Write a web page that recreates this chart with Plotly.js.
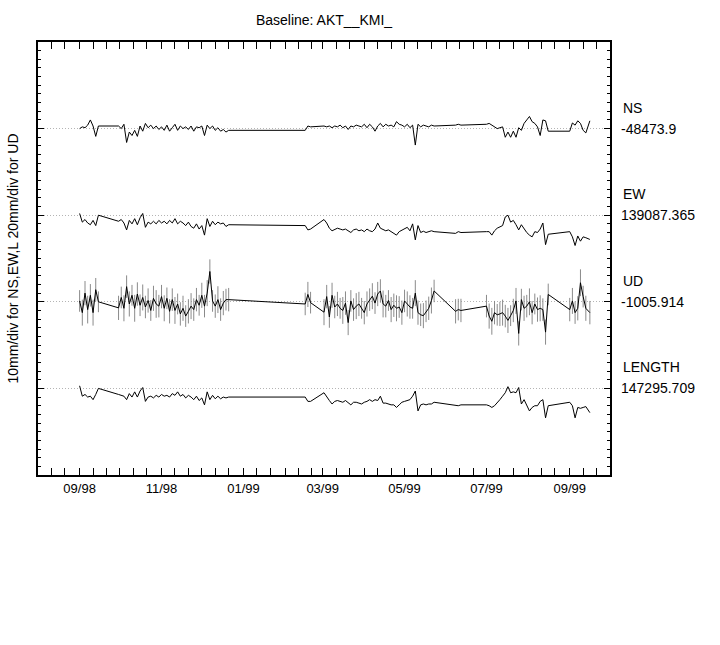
<!DOCTYPE html>
<html>
<head>
<meta charset="utf-8">
<script src="https://cdn.plot.ly/plotly-3.0.1.min.js"></script>
<style>html,body{margin:0;padding:0;background:#fff;}#chart{width:720px;height:645px;}</style>
</head>
<body>
<div id="chart"></div>
<script>
// Observation dates (gaps are joined by straight lines in the original)
const dates = [
  '1998-09-01','1998-09-03','1998-09-05','1998-09-07','1998-09-09','1998-09-11','1998-09-13','1998-09-15',
  '1998-09-30','1998-10-02','1998-10-04','1998-10-06','1998-10-08','1998-10-10','1998-10-12','1998-10-14','1998-10-16','1998-10-18','1998-10-20','1998-10-22','1998-10-24','1998-10-26','1998-10-28','1998-10-30',
  '1998-11-01','1998-11-03','1998-11-05','1998-11-07','1998-11-09','1998-11-11','1998-11-13','1998-11-15','1998-11-17','1998-11-19','1998-11-21','1998-11-23','1998-11-25','1998-11-27','1998-11-29',
  '1998-12-01','1998-12-03','1998-12-05','1998-12-07','1998-12-09','1998-12-11','1998-12-13','1998-12-15','1998-12-17','1998-12-19','1998-12-21',
  '1999-02-16','1999-02-18','1999-02-20',
  '1999-03-02','1999-03-04','1999-03-06','1999-03-08','1999-03-10','1999-03-12','1999-03-14','1999-03-16','1999-03-18','1999-03-20','1999-03-22','1999-03-24','1999-03-26','1999-03-28','1999-03-30',
  '1999-04-01','1999-04-03','1999-04-05','1999-04-07','1999-04-09','1999-04-11','1999-04-13','1999-04-15','1999-04-17','1999-04-19','1999-04-21','1999-04-23','1999-04-25','1999-04-27','1999-04-29',
  '1999-05-01','1999-05-03','1999-05-05','1999-05-07','1999-05-09','1999-05-11','1999-05-13','1999-05-15','1999-05-17','1999-05-19','1999-05-21','1999-05-23',
  '1999-06-08','1999-06-10','1999-06-12',
  '1999-07-01','1999-07-03','1999-07-05','1999-07-07','1999-07-09','1999-07-11','1999-07-13','1999-07-15','1999-07-17','1999-07-19','1999-07-21','1999-07-23','1999-07-25','1999-07-27','1999-07-29','1999-07-31',
  '1999-08-02','1999-08-04','1999-08-06','1999-08-08','1999-08-10','1999-08-12','1999-08-14','1999-08-16',
  '1999-09-01','1999-09-03','1999-09-05','1999-09-07','1999-09-09','1999-09-11','1999-09-13','1999-09-16'
];

// Offsets from the reference value, in mm
const nsMM = [
  0.0,0.2,0.1,0.4,1.0,0.3,-0.9,0.3,
  0.3,0.0,0.5,-1.6,-0.4,-0.8,-0.2,-0.9,0.3,-0.3,0.6,0.1,0.4,0.0,0.3,-0.1,
  0.2,-0.2,0.4,-0.3,0.1,0.5,-0.2,0.3,0.0,0.2,-0.1,0.3,-0.3,0.2,0.1,
  0.3,-0.8,0.4,0.0,0.3,-0.2,0.1,-0.3,-0.1,-0.4,-0.2,
  -0.2,0.3,0.2,
  0.3,0.2,0.3,0.1,0.3,0.2,0.4,0.1,0.3,-0.1,0.3,0.2,0.4,0.3,0.2,
  0.5,0.1,0.5,0.2,-0.3,0.3,0.6,0.2,0.5,0.3,0.4,0.2,0.8,0.5,0.4,
  0.2,0.5,0.1,0.4,-1.9,0.5,0.2,0.4,0.3,0.2,0.4,0.3,
  0.4,0.5,0.4,
  0.5,0.6,0.4,0.2,0.0,0.1,0.2,-1.0,-0.4,-1.0,-0.3,-1.0,0.1,-0.2,0.6,1.0,
  1.4,0.8,0.6,0.2,-0.8,1.0,0.9,-0.3,
  -0.3,0.65,0.4,0.9,0.6,-0.2,-0.5,0.9
];
const ewMM = [
  0.2,-0.8,-0.5,-0.9,-1.1,-0.6,-1.2,0.0,
  -0.7,-0.5,-0.9,-1.7,-0.6,-1.0,-0.4,-1.1,-0.3,0.2,-1.4,-0.8,-1.0,-0.7,-1.0,-0.6,
  -0.9,-0.7,-1.0,-0.6,-0.9,-0.4,-1.0,-0.7,-0.9,-1.2,-0.8,-1.3,-1.5,-1.0,-1.6,
  -1.2,-2.3,-0.4,-1.3,-0.7,-1.1,-0.8,-1.0,-0.9,-1.3,-1.1,
  -1.2,-1.7,-1.6,
  -0.5,-0.9,-1.5,-1.8,-1.6,-1.5,-1.6,-1.7,-1.6,-1.8,-2.0,-1.7,-1.6,-1.8,-1.7,
  -1.9,-1.6,-1.8,-1.9,-1.6,-0.9,-1.5,-1.7,-1.8,-1.7,-1.9,-2.0,-2.3,-1.9,-1.7,
  -1.6,-1.4,-1.8,-1.0,-2.85,-1.2,-2.0,-1.85,-2.0,-1.9,-1.8,-1.9,
  -2.1,-1.9,-2.0,
  -1.9,-1.9,-2.3,-1.8,-1.5,-1.3,-1.2,-0.2,0.0,-0.8,-0.6,-1.1,-1.7,-1.1,-1.6,-2.0,
  -2.3,-2.5,-1.9,-2.0,-1.6,-0.9,-3.4,-2.2,
  -1.9,-2.5,-3.5,-2.4,-3.0,-2.5,-2.6,-2.8
];
const udMM = [
  0.2,-2.5,2.0,-1.8,1.5,-2.5,2.8,0.0,
  -1.4,1.0,-1.5,3.5,-0.5,1.5,-1.5,1.8,-0.8,1.0,-1.2,0.3,-2.0,0.8,-0.5,-1.0,
  1.2,-1.5,0.8,-2.2,0.5,-2.0,-0.5,-2.8,-1.5,-3.3,-2.2,-1.0,-1.8,0.5,-0.8,
  1.5,-1.0,2.0,7.0,0.2,-1.0,0.5,-1.8,-0.3,0.5,0.5,
  -0.5,1.7,-0.2,
  -2.4,1.2,-3.5,1.5,-1.2,-0.5,-1.5,-2.0,-0.3,-4.8,0.2,-1.8,-1.0,-0.5,-1.5,
  -2.5,-0.5,0.5,1.3,-0.3,1.8,2.5,-0.5,-1.0,0.3,-1.8,-0.8,-1.5,-1.2,-2.5,
  0.2,-0.5,-1.2,-1.5,2.0,-2.5,-3.0,-3.2,-2.2,-1.5,0.3,2.5,
  -2.2,-1.8,-2.0,
  -1.0,-3.3,-4.5,-2.5,-3.0,-2.8,-2.5,-3.3,-4.3,-3.2,-2.0,0.2,-7.3,0.5,-1.5,-1.0,
  0.0,-2.5,-0.5,-1.8,-1.5,-1.8,-7.0,1.7,
  -1.8,0.2,-2.5,-1.5,4.4,1.2,-1.5,-2.5
];
const udErrMM = [
  2.5,3.0,2.8,3.2,2.6,3.0,2.7,2.4,
  2.8,2.5,3.0,2.6,2.9,2.4,3.1,2.7,2.5,3.0,2.6,2.8,2.4,2.9,3.2,2.6,
  2.7,3.0,2.5,2.8,2.6,3.1,2.4,2.7,2.9,2.5,2.8,3.0,2.6,2.7,2.4,
  2.9,2.6,3.0,2.8,2.5,2.7,3.1,2.6,2.8,2.5,2.7,
  2.6,2.9,2.5,
  3.0,2.7,2.5,2.9,2.6,2.8,2.4,3.1,2.7,2.9,2.5,2.6,3.0,2.8,2.4,
  2.7,2.9,2.6,3.0,2.5,2.8,2.7,3.1,2.6,2.4,2.9,2.7,3.0,2.5,2.8,
  2.6,2.9,2.7,2.4,3.0,2.8,2.6,2.9,2.5,2.7,3.0,2.6,
  2.8,2.5,2.7,
  2.6,2.9,3.1,2.7,2.5,2.8,3.0,2.6,2.9,2.4,2.7,3.0,2.8,2.5,2.9,2.6,
  3.1,2.7,2.4,2.8,3.0,2.6,2.9,2.5,
  2.7,3.0,2.6,2.8,3.1,2.5,2.9,2.7
];
const lenMM = [
  0.3,-0.9,-0.7,-1.0,-0.9,-1.3,-0.7,0.0,
  -0.7,-0.8,-0.9,-1.3,-0.6,-1.0,-0.4,-1.0,-0.3,0.1,-1.5,-1.0,-0.9,-1.1,-0.8,-1.0,
  -0.7,-0.9,-0.8,-1.0,-0.6,-0.8,-0.4,-0.9,-0.7,-1.1,-0.8,-1.0,-1.3,-0.9,-1.4,
  -1.1,-1.9,-0.4,-1.3,-0.8,-1.2,-0.9,-1.2,-1.0,-1.1,-1.0,
  -1.0,-1.5,-1.5,
  -0.5,-1.0,-1.4,-1.8,-1.5,-1.4,-1.5,-1.6,-1.4,-1.7,-1.9,-1.6,-1.6,-1.7,-1.8,
  -1.6,-1.5,-1.3,-1.5,-1.3,-1.4,-0.9,-1.7,-1.7,-1.8,-1.9,-1.9,-2.2,-1.9,-1.6,
  -1.5,-1.4,-1.3,-0.9,-0.3,-2.6,-1.9,-1.8,-1.9,-1.8,-1.8,-1.6,
  -1.9,-2.0,-1.9,
  -1.9,-2.0,-2.2,-2.0,-1.7,-1.3,-0.9,-0.5,0.2,-0.5,-0.4,-0.5,0.1,-1.8,-1.3,-1.9,
  -2.6,-2.2,-2.0,-2.0,-1.5,-1.3,-3.4,-2.0,
  -1.6,-2.0,-3.4,-2.2,-2.3,-2.2,-2.1,-2.8
];

const seriesNames = ['NS', 'EW', 'UD', 'LENGTH'];
const refValues = ['-48473.9', '139087.365', '-1005.914', '147295.709'];
const xTickVals = ['1998-09-01','1998-11-01','1999-01-01','1999-03-01','1999-05-01','1999-07-01','1999-09-01'];
const xTickText = ['09/98','11/98','01/99','03/99','05/99','07/99','09/99'];
const titleText = 'Baseline: AKT__KMI_';
const yTitleText = '10mm/div for NS,EW,L 20mm/div for UD';

// minor ticks on the 1st, 11th and 21st of each month
const minorTicks = [];
for (let y = 1998, m = 8; y < 1999 || m <= 10; ) {
  const mm = String(m).padStart(2, '0');
  ['01','11','21'].forEach(d => minorTicks.push(y + '-' + mm + '-' + d));
  m++; if (m > 12) { m = 1; y++; }
}

const FONT = 'Liberation Sans, Arial, Helvetica, sans-serif';
const lineStyle = {color: '#000', width: 1};

const traces = [
  {x: dates, y: nsMM, yaxis: 'y', type: 'scatter', mode: 'lines', line: lineStyle, name: 'NS'},
  {x: dates, y: ewMM, yaxis: 'y2', type: 'scatter', mode: 'lines', line: lineStyle, name: 'EW'},
  {x: dates, y: udMM, yaxis: 'y3', type: 'scatter', mode: 'lines', line: lineStyle, name: 'UD',
   error_y: {type: 'data', array: udErrMM, visible: true, color: '#8a8a8a', thickness: 1, width: 0}},
  {x: dates, y: lenMM, yaxis: 'y4', type: 'scatter', mode: 'lines', line: lineStyle, name: 'LENGTH'}
];

const hiddenAxis = (range) => ({
  overlaying: 'y', range: range, visible: false, showgrid: false, zeroline: false, fixedrange: true
});

const annotations = [];
const axisRefs = ['y', 'y2', 'y3', 'y4'];
seriesNames.forEach((nm, i) => {
  annotations.push({xref: 'paper', yref: axisRefs[i], x: 1.0192, y: 0, xanchor: 'left', yanchor: 'middle',
    yshift: 21, text: nm, showarrow: false, font: {family: FONT, size: 14, color: '#000'}});
  annotations.push({xref: 'paper', yref: axisRefs[i], x: 1.0155, y: 0, xanchor: 'left', yanchor: 'middle',
    text: refValues[i], showarrow: false, font: {family: FONT, size: 14, color: '#000'}});
});

const layout = {
  width: 720, height: 645,
  margin: {l: 38, r: 110, t: 42, b: 170},
  paper_bgcolor: '#fff', plot_bgcolor: '#fff',
  showlegend: false,
  font: {family: FONT, size: 13, color: '#000'},
  title: {text: titleText, x: 0.5, xref: 'paper', y: 1 - 20 / 645, yref: 'container', yanchor: 'middle',
          font: {family: FONT, size: 14, color: '#000'}},
  xaxis: {
    type: 'date', range: ['1998-08-01', '1999-10-01'],
    tickmode: 'array', tickvals: xTickVals, ticktext: xTickText,
    ticks: 'inside', ticklen: 7, tickwidth: 1, tickcolor: '#000',
    showline: true, linecolor: '#000', linewidth: 2, mirror: 'allticks',
    showgrid: false, zeroline: false,
    tickfont: {family: FONT, size: 13, color: '#000'},
    minor: {tickmode: 'array', tickvals: minorTicks, ticks: 'inside', ticklen: 4, tickwidth: 1, tickcolor: '#000', showgrid: false}
  },
  yaxis: {
    range: [-40, 10], tickmode: 'array', tickvals: [-30, -20, -10, 0],
    showticklabels: false,
    ticks: 'inside', ticklen: 6, tickwidth: 1, tickcolor: '#000',
    showline: true, linecolor: '#000', linewidth: 2, mirror: 'allticks',
    showgrid: true, gridcolor: '#b4b4b4', griddash: '1px,2px', gridwidth: 1, zeroline: false,
    minor: {dtick: 1, tick0: 0, ticks: 'inside', ticklen: 3, tickwidth: 1, tickcolor: '#000', showgrid: false},
    title: {text: yTitleText, standoff: 14, font: {family: FONT, size: 14, color: '#000'}}
  },
  yaxis2: hiddenAxis([-30, 20]),
  yaxis3: hiddenAxis([-40, 60]),
  yaxis4: hiddenAxis([-10, 40]),
  annotations: annotations
};

Plotly.newPlot('chart', traces, layout, {staticPlot: true, displayModeBar: false});
</script>
</body>
</html>
